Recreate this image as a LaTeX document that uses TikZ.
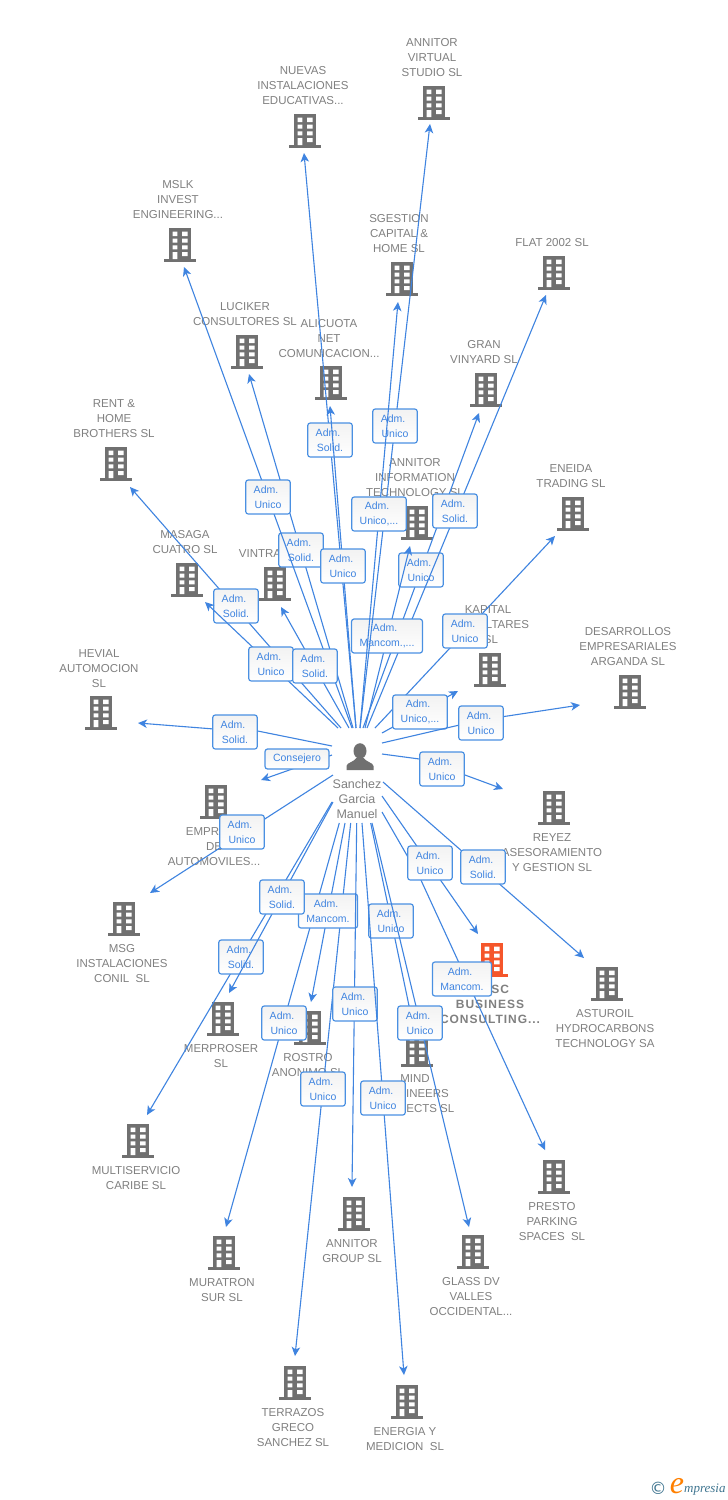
\documentclass[tikz,border=0pt]{standalone}
\usepackage{fontspec}
\setmainfont{Liberation Sans}
\newfontfamily\pscfont[LetterSpace=8.0]{Liberation Sans}
\newfontfamily\logofont{Liberation Serif}
\newfontfamily\copyfont{DejaVu Sans}
\usetikzlibrary{arrows.meta}
\definecolor{edgeblue}{HTML}{3F84E0}
\definecolor{boxblue}{HTML}{4A90E2}
\definecolor{labgrey}{HTML}{808080}
\definecolor{iconGrey}{HTML}{707070}
\definecolor{iconOrange}{HTML}{F5562B}
\definecolor{logoblue}{HTML}{3F7590}
\tikzset{
 conn/.style={draw=edgeblue,line width=1.1pt,-{Stealth[length=9pt,width=8.5pt,inset=2.5pt]}},
 lab/.style={draw=boxblue,line width=1.2pt,rounded corners=2.5pt,top color=black!5,bottom color=white,
   minimum width=43pt,minimum height=34pt,inner xsep=8pt,inner ysep=0pt,align=center,text=edgeblue,
   font=\fontsize{10.5}{15}\selectfont},
 onelab/.style={lab,minimum height=20pt},
 glabel/.style={anchor=north,inner sep=0pt,align=center,text=labgrey,font=\fontsize{11.5}{15}\selectfont},
 bldbox/.style={inner sep=0pt,minimum width=32pt,minimum height=34pt},
}
\newcommand{\bld}[4]{%
 \node[bldbox] (#1) at (#2,#3) {};
 \begin{scope}[shift={(#2,#3)}]
  \fill[#4] (-10.8,-17) rectangle (10.8,15);
  \fill[#4] (-16,14) rectangle (16,17);
  \fill[white] (-7.3,-13.5) rectangle (-2.7,-9) (2.2,-13.5) rectangle (7.7,-9)
   (-7.3,-6.3) rectangle (-2.7,-2.3) (2.2,-6.3) rectangle (7.7,-2.3)
   (-7.3,0.3) rectangle (-2.7,4.3) (2.2,0.3) rectangle (7.7,4.3)
   (-7.3,7) rectangle (-2.7,14) (2.2,7) rectangle (7.7,11);
 \end{scope}}
\newcommand{\nm}[5]{\node[glabel] (#1) at (#2,#3-3.5) {#5};}
\newcommand{\conn}[8][lab]{% style id sx sy ex ey lx,ly text
 \coordinate (#2-s) at (#3,#4);
 \coordinate (#2-e) at (#5,#6);
 \draw[conn] (#2-s) -- (#2-e);
 \node[#1] (#2-l) at (#7) {#8};}
\newcommand{\connb}[8]{% id sx sy ex ey lx,ly text via
 \coordinate (#1-s) at (#2,#3);
 \coordinate (#1-e) at (#4,#5);
 \draw[conn] (#1-s) #8 -- (#1-e);
 \node[lab] (#1-l) at (#6) {#7};}
\newcommand{\ad}{Adm.\hspace*{4pt}\\}
\begin{document}
\begin{tikzpicture}[x=1pt,y=-1pt]
\useasboundingbox[fill=white] (0,0) rectangle (728,1500);
% buildings
\bld{bVirtual}{434}{103}{iconGrey}
\bld{bNuevas}{305}{131}{iconGrey}
\bld{bMslk}{180}{245}{iconGrey}
\bld{bSgestion}{402}{279}{iconGrey}
\bld{bFlat}{554}{273}{iconGrey}
\bld{bLuciker}{247}{352}{iconGrey}
\bld{bAlicuota}{331}{383}{iconGrey}
\bld{bGran}{486}{390}{iconGrey}
\bld{bRent}{116}{464}{iconGrey}
\bld{bInfo}{417}{523}{iconGrey}
\bld{bEneida}{573}{514}{iconGrey}
\bld{bMasaga}{187}{580}{iconGrey}
\bld{bVintra}{275}{584}{iconGrey}
\bld{bKapital}{490}{670}{iconGrey}
\bld{bDesarrollos}{630}{692}{iconGrey}
\bld{bHevial}{101}{713}{iconGrey}
\bld{bEmpr}{216}{802}{iconGrey}
\bld{bReyez}{554}{808}{iconGrey}
\bld{bMsg}{124}{919}{iconGrey}
\bld{bPsc}{492}{960}{iconOrange}
\bld{bAsturoil}{607}{984}{iconGrey}
\bld{bMerproser}{223}{1019}{iconGrey}
\bld{bRostro}{310}{1028}{iconGrey}
\bld{bMind}{417}{1050}{iconGrey}
\bld{bMulti}{138}{1141}{iconGrey}
\bld{bMuratron}{224}{1253}{iconGrey}
\bld{bGroup}{354}{1214}{iconGrey}
\bld{bPresto}{554}{1177}{iconGrey}
\bld{bGlass}{473}{1252}{iconGrey}
\bld{bTerrazos}{295}{1383}{iconGrey}
\bld{bEnergia}{407}{1402}{iconGrey}
% names
\nm{nVirtual}{432}{42}{}{ANNITOR\\VIRTUAL\\STUDIO SL}
\nm{nNuevas}{303}{70}{}{NUEVAS\\INSTALACIONES\\EDUCATIVAS...}
\nm{nMslk}{178}{184}{}{MSLK\\INVEST\\ENGINEERING...}
\nm{nSgestion}{399}{218}{}{SGESTION\\CAPITAL \&\\HOME SL}
\nm{nFlat}{552}{242}{}{FLAT 2002 SL}
\nm{nLuciker}{245}{306}{}{LUCIKER\\CONSULTORES SL}
\nm{nAlicuota}{329}{323}{}{ALICUOTA\\NET\\COMUNICACION...}
\nm{nGran}{484}{344}{}{GRAN\\VINYARD SL}
\nm{nRent}{114}{403}{}{RENT \&\\HOME\\BROTHERS SL}
\nm{nInfo}{415}{462}{}{ANNITOR\\INFORMATION\\TECHNOLOGY SL}
\nm{nEneida}{571}{468}{}{ENEIDA\\TRADING SL}
\nm{nMasaga}{185}{534}{}{MASAGA\\CUATRO SL}
\nm{nVintra}{260}{553}{}{VINTRA}
\nm{nKapital}{488}{609}{}{KAPITAL\\\hspace*{39pt}LTARES\\\hspace*{6pt}SL}
\nm{nDesarrollos}{628}{631}{}{DESARROLLOS\\EMPRESARIALES\\ARGANDA SL}
\nm{nHevial}{99}{653}{}{HEVIAL\\AUTOMOCION\\SL}
\nm{nEmpr}{214}{831}{}{EMPRESA\\DE\\AUTOMOVILES...}
\nm{nReyez}{552}{837}{}{REYEZ\\ASESORAMIENTO\\Y GESTION SL}
\nm{nMsg}{122}{948}{}{MSG\\INSTALACIONES\\CONIL\ \ SL}
\nm{nAsturoil}{605}{1013}{}{ASTUROIL\\HYDROCARBONS\\TECHNOLOGY SA}
\nm{nMerproser}{221}{1048}{}{MERPROSER\\SL}
\nm{nRostro}{308}{1057}{}{ROSTRO\\ANONIMO SL}
\nm{nMind}{415}{1078}{}{MIND\\ENGINEERS\\PROJECTS SL}
\nm{nMulti}{136}{1170}{}{MULTISERVICIO\\CARIBE SL}
\nm{nMuratron}{222}{1282}{}{MURATRON\\SUR SL}
\nm{nGroup}{352}{1243}{}{ANNITOR\\GROUP SL}
\nm{nPresto}{552}{1206}{}{PRESTO\\PARKING\\SPACES\ \ SL}
\nm{nGlass}{471}{1281}{}{GLASS DV\\VALLES\\OCCIDENTAL...}
\nm{nTerrazos}{293}{1412}{}{TERRAZOS\\GRECO\\SANCHEZ SL}
\nm{nEnergia}{405}{1431}{}{ENERGIA Y\\MEDICION\ \ SL}
\node[glabel,font=\pscfont\bfseries\fontsize{12}{15}\selectfont] (nPsc) at (490,984.5) {\hspace*{10pt}OSC\\BUSINESS\\CONSULTING...};
% person
\node[minimum width=27pt,minimum height=27pt,inner sep=0pt] (person) at (360,757) {};
\begin{scope}[shift={(360,757)}]
 \fill[iconGrey] (0,-6) ellipse (6.5 and 7.8);
 \fill[iconGrey] (-13.5,13) -- (-13.5,9) .. controls (-13,5.5) and (-7,5.5) .. (-3.5,1) -- (3.5,1) .. controls (7,5.5) and (13,5.5) .. (13.5,9) -- (13.5,13) -- cycle;
\end{scope}
\node[glabel,font=\fontsize{12.5}{15}\selectfont] (personname) at (357,779.5) {Sanchez\\Garcia\\Manuel};
% connectors
\conn{nuevas}{356}{728}{304}{153}{330,440}{\ad Solid.}
\conn{luciker}{353}{728}{249}{374}{301,550}{\ad Solid.}
\conn{mslk}{352}{728}{184}{267}{268,497}{\ad Unico}
\conn{alicuota}{356}{728}{330}{406}{343,566}{\ad Unico}
\conn{gran}{363}{728}{479}{413}{421,570}{\ad Unico}
\conn{flat}{367}{728}{546}{295}{455,511}{\ad Solid.}
\conn{info}{365}{728}{410}{546}{387,636}{\ad Mancom.,...}
\conn{virtual}{360}{728}{430}{124}{395,426}{\ad Unico}
\conn{sgestion}{360}{728}{398}{302}{379,514}{\ad Unico,...}
\conn{rent}{341}{728}{130}{487}{236,606}{\ad Solid.}
\conn{masaga}{338}{728}{205}{602}{271,664}{\ad Unico}
\conn{vintra}{349}{728}{281}{607}{315,666}{\ad Solid.}
\conn{eneida}{375}{728}{555}{536}{465,631}{\ad Unico}
\conn{kapital}{382}{733}{458}{691}{420,712}{\ad Unico,...}
\connb{desarrollos}{382}{743}{580}{705}{481,723}{\ad Unico}{-- (481,720)}
\connb{reyez}{382}{754}{503}{789}{442,769}{\ad Unico}{-- (421.7,759.3) -- (465,775)}
\connb{hevial}{332}{746}{138}{723}{235,732}{\ad Solid.}{-- (257.7,731) -- (214,729)}
\conn[onelab]{empr}{332}{755}{261}{780}{297,759}{Consejero}
\conn{msg}{333}{775}{150}{893}{242,832}{\ad Unico}
\conn{asturoil}{383}{782}{584}{958}{483,867}{\ad Solid.}
\connb{presto}{382}{812}{545}{1150}{462,979}{\ad Mancom.}{-- (420,878)}
\conn{psc}{382}{796}{478}{934}{430,863}{\ad Unico}
\conn{multi}{332}{802}{147}{1115}{241,957}{\ad Solid.}
\conn{muratron}{339.3}{823}{226}{1227}{284,1023}{\ad Unico}
\conn{terrazos}{350.7}{823}{295}{1356}{323,1089}{\ad Unico}
\conn{rostro}{345}{823}{311}{1002}{328,911}{\ad Mancom.}
\conn{merproser}{333}{802}{229}{993}{282,897}{\ad Solid.}
\conn{mind}{370.7}{823}{412}{1020}{391,921}{\ad Unico}
\conn{group}{356.7}{823}{352}{1187}{355,1004}{\ad Unico}
\conn{energia}{362}{823}{404}{1375}{383,1098}{\ad Unico}
\conn{glass}{372}{823}{469}{1227}{420,1023}{\ad Unico}
% logo
\node[inner sep=0pt,text=logoblue,font=\copyfont\fontsize{17}{17}\selectfont] (copyright) at (658,1488.5) {©};
\node[inner sep=0pt,text=orange,font=\logofont\itshape\fontsize{32}{32}\selectfont] (logoe) at (677,1486.5) {e};
\node[anchor=west,inner sep=0pt,text=logoblue,font=\logofont\itshape\fontsize{13}{13}\selectfont] (logotext) at (684,1490) {mpresia};
\end{tikzpicture}
\end{document}
